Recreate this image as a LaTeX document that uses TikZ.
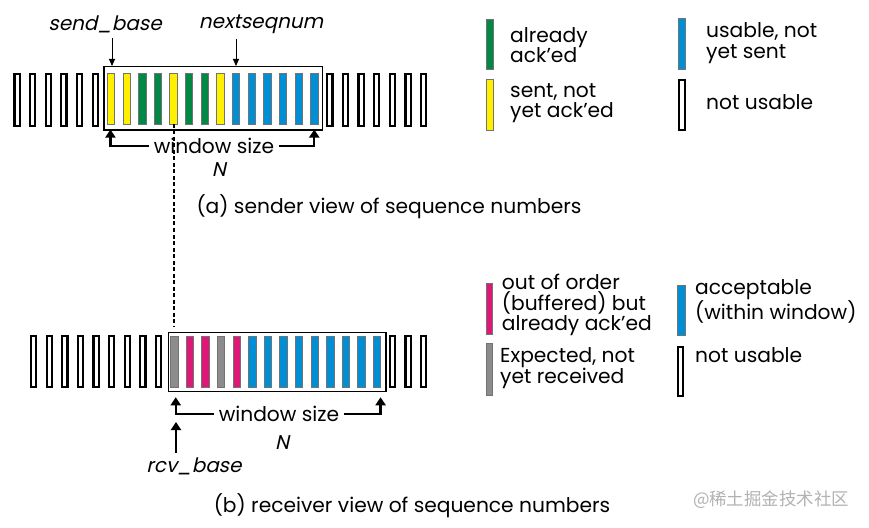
\documentclass[tikz,border=0pt]{standalone}
\usepackage{fontspec}
\setmainfont{Poppins}
\newfontfamily\slfont[FakeSlant=0.22]{Poppins}
\newfontfamily\cjkfont{Noto Sans CJK SC}
\usetikzlibrary{arrows.meta}
\definecolor{ackG}{RGB}{0,136,68}
\definecolor{sentY}{RGB}{255,240,0}
\definecolor{useB}{RGB}{0,142,212}
\definecolor{oooM}{RGB}{222,24,120}
\definecolor{expG}{RGB}{140,140,140}
\begin{document}
\begin{tikzpicture}[x=1bp,y=-1bp,
  txt/.style={inner sep=0pt, font=\fontsize{20.3}{20.5}\selectfont, align=left},
  itxt/.style={inner sep=0pt, font=\fontsize{20}{20.5}\selectfont\slfont},
  unus/.style={draw=black, line width=2.2bp},
  cbar/.style={draw=black!55, line width=0.5bp},
  winbox/.style={draw=black, line width=1.1bp, inner sep=0pt, fill=none},
  thinarr/.style={line width=0.9bp, -{Triangle[length=7bp,width=6bp]}},
  warr/.style={line width=2.3bp, -{Triangle[length=8bp,width=10bp]}},
  dashln/.style={line width=2bp, dash pattern=on 4bp off 2.5bp}]
\useasboundingbox (0,0) rectangle (869,528);
\fill[white] (0,0) rectangle (869,528);

% ---------------- sender row ----------------
\node[winbox, minimum width=218.7bp, minimum height=63.3bp] (swin) at (213.35,98.35) {};
\foreach \k in {0,...,5,20,21,22,23,24,25,26}
  \draw[unus] ({13.3+15.64*\k+1.1},74.1) rectangle ++(5.2,51.8);
\foreach \k/\c in {6/sentY,7/sentY,8/ackG,9/ackG,10/sentY,11/ackG,12/ackG,13/sentY,
                   14/useB,15/useB,16/useB,17/useB,18/useB,19/useB}
  \filldraw[cbar, fill=\c] ({13.3+15.64*\k},73.3) rectangle ++(7.4,50.7);

\node[itxt] (sb) at (105,24) {send\_base};
\node[itxt] (ns) at (261,24) {nextseqnum};
\coordinate (sbtop) at (112,38);
\coordinate (sbtip) at (112,66);
\coordinate (nstop) at (236,39);
\coordinate (nstip) at (236,66);
\draw[thinarr] (sbtop) -- (sbtip);
\draw[thinarr] (nstop) -- (nstip);

\node[txt, inner xsep=5bp] (wsa) at (214,146) {window size};
\node[itxt] (Na) at (219,170) {N};
\draw[warr] (wsa.west) -| ([xshift=7bp,yshift=1bp]swin.south west);
\draw[warr] (wsa.east) -| ([xshift=-9bp,yshift=1bp]swin.south east);

\node[txt] (capa) at (389,207) {(a) sender view of sequence numbers};

% ---------------- receiver row ----------------
\node[winbox, minimum width=217.7bp, minimum height=59bp] (rwin) at (277.15,362.2) {};
\foreach \k in {0,...,8,23,24,25}
  \draw[unus] ({30+15.6*\k+1.1},336.1) rectangle ++(5.2,50.8);
\foreach \k/\c in {9/expG,10/oooM,11/oooM,12/expG,13/oooM,
                   14/useB,15/useB,16/useB,17/useB,18/useB,19/useB,20/useB,21/useB,22/useB}
  \filldraw[cbar, fill=\c] ({30+15.6*\k},336.7) rectangle ++(7.4,51);

\coordinate (dtop) at (174.3,124);
\coordinate (dbot) at (174.3,326);
\draw[dashln] (dtop) -- (dbot);

\node[txt, inner xsep=5bp] (wsb) at (279,414) {window size};
\node[itxt] (Nb) at (282,443) {N};
\draw[warr, shorten >=5bp] (wsb.west) -| ([xshift=8bp]rwin.south west);
\draw[warr, shorten >=5bp] (wsb.east) -| ([xshift=-6bp]rwin.south east);

\node[itxt] (rcv) at (194,466) {rcv\_base};
\coordinate (rbx) at (176,453);
\coordinate (rbtip) at (176,422);
\draw[warr] (rbx) -- (rbtip);

\node[txt] (capb) at (412,506) {(b) receiver view of sequence numbers};
\node[inner sep=0pt, text=black!30, font=\fontsize{17.5}{18}\selectfont\cjkfont] (wm) at (771,500) {@稀土掘金技术社区};

% ---------------- legend (sender) ----------------
\filldraw[cbar, fill=ackG] (486.7,19) rectangle (493.3,69);
\filldraw[cbar, fill=sentY] (486.7,79) rectangle (493.3,130);
\filldraw[cbar, fill=useB] (678.3,18) rectangle (685.7,69);
\draw[unus] (679.1,80.1) rectangle (684.7,129.9);
\node[txt, anchor=west] (l1) at (510,45) {already\\ack’ed};
\node[txt, anchor=west] (l2) at (510,103) {sent, not\\yet ack’ed};
\node[txt, anchor=west] (l3) at (706,43) {usable, not\\yet sent};
\node[txt, anchor=west] (l4) at (706,102) {not usable};

% ---------------- legend (receiver) ----------------
\filldraw[cbar, fill=oooM] (486,283) rectangle (492.7,334);
\filldraw[cbar, fill=expG] (486,343) rectangle (492.7,395);
\filldraw[cbar, fill=useB] (677.3,285) rectangle (685,335);
\draw[unus] (677.8,347.1) rectangle (682.9,395.6);
\node[txt, anchor=west] (m1) at (501.7,305) {out of order\\(buffered) but\\already ack’ed};
\node[txt, anchor=west] (m2) at (500,368) {Expected, not\\yet received};
\node[txt, anchor=west] (m3) at (695,301.7) {acceptable\\(within window)};
\node[txt, anchor=west] (m4) at (695,355) {not usable};
\end{tikzpicture}
\end{document}
